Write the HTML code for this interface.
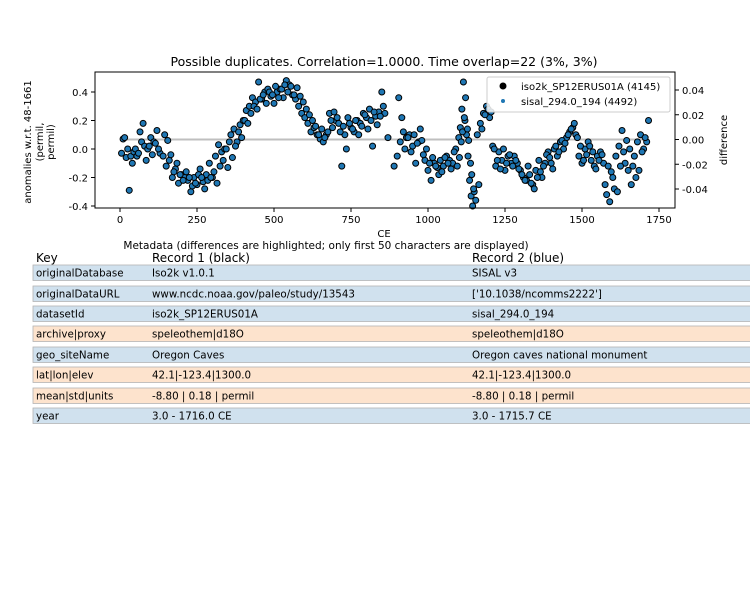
<!DOCTYPE html>
<html><head><meta charset="utf-8"><style>
body{margin:0;background:#fff;width:750px;height:600px;overflow:hidden;font-family:"DejaVu Sans","Liberation Sans",sans-serif}
svg text{font-family:"DejaVu Sans","Liberation Sans",sans-serif;fill:#000}
</style></head><body>
<svg id="chart" width="750" height="600" viewBox="0 0 750 600">
<text x="384" y="66" font-size="12.5" text-anchor="middle">Possible duplicates. Correlation=1.0000. Time overlap=22 (3%, 3%)</text>
<g id="plot"></g>
<g id="table"></g>
</svg>
<script>
const years=[5,10,15,20,25,30,35,40,45,50,55,60,70,80,90,100,110,120,130,140,150,160,170,180,190,200,210,220,230,240,250,260,270,280,290,300,310,320,330,340,350,360,370,380,390,400,410,420,430,440,450,460,470,480,490,500,510,520,530,540,550,560,570,580,590,600,610,620,630,640,650,660,670,680,690,700,710,720,730,740,750,760,770,780,790,800,810,820,830,840,850,860,870,890,900,910,920,930,940,950,960,970,980,990,1000,1010,1020,1030,1040,1050,1060,1070,1080,1090,1100,1105,1110,1115,1120,1125,1130,1135,1140,1145,1150,1160,1170,1180,1190,1200,1210,1220,1230,1240,1250,1260,1270,1280,1290,1300,1310,1320,1330,1340,1350,1360,1370,1380,1390,1400,1410,1420,1430,1440,1450,1460,1470,1480,1490,1500,1510,1520,1530,1540,1550,1560,1570,1575,1580,1590,1600,1610,1620,1630,1640,1650,1660,1670,1680,1690,1700,1710,1716,
65,75,85,95,105,115,125,145,155,165,175,185,195,205,215,225,235,245,255,265,275,285,295,305,315,325,335,345,355,365,375,385,395,405,415,425,435,445,455,465,475,485,495,505,515,525,535,545,555,565,575,585,595,605,615,625,635,645,655,665,675,685,695,705,715,725,735,745,755,765,775,785,795,805,815,825,835,845,855,905,915,925,935,945,955,965,975,985,995,1005,1015,1025,1035,1045,1055,1065,1075,1085,1095,1102,1108,1112,1118,1122,1128,1132,1138,1142,1148,1155,1165,1175,1185,1195,1205,1215,1225,1235,1245,1255,1265,1275,1285,1295,1305,1315,1325,1335,1345,1355,1365,1375,1385,1395,1405,1415,1425,1435,1445,1455,1465,1475,1485,1495,1505,1515,1525,1535,1545,1555,1565,1585,1595,1605,1615,1625,1635,1645,1655,1665,1675,1685,1695,1705];
const values=[-0.03,0.07,0.08,-0.06,0.0,-0.29,-0.05,-0.1,-0.02,0.0,-0.05,-0.03,0.05,0.02,0.0,0.08,0.05,0.13,-0.03,-0.05,-0.12,-0.08,-0.2,-0.14,-0.24,-0.18,-0.2,-0.22,-0.3,-0.2,-0.25,-0.14,-0.23,-0.18,-0.1,-0.2,-0.05,0.03,-0.02,0.0,-0.13,0.1,0.14,0.05,0.17,0.2,0.27,0.3,0.36,0.33,0.47,0.35,0.4,0.42,0.37,0.32,0.4,0.42,0.36,0.48,0.45,0.38,0.35,0.3,0.25,0.22,0.18,0.12,0.15,0.1,0.07,0.05,0.1,0.25,0.15,0.2,0.18,-0.12,0.1,0.22,0.15,0.12,0.2,0.18,0.25,0.22,0.28,0.02,0.23,0.26,0.4,0.25,0.08,-0.12,-0.05,0.05,0.12,0.08,0.1,0.02,-0.1,0.05,0.06,-0.08,-0.15,-0.22,-0.1,-0.13,-0.08,-0.12,-0.05,-0.08,-0.1,0.0,0.08,0.15,0.28,0.47,0.2,0.1,-0.05,-0.22,-0.33,-0.4,-0.3,0.1,0.18,0.25,0.3,0.22,0.02,-0.12,-0.02,-0.08,-0.15,-0.05,-0.1,-0.05,-0.1,-0.15,-0.2,-0.22,-0.18,-0.25,-0.15,-0.08,-0.2,-0.1,-0.02,-0.1,0.0,-0.05,0.05,0.0,0.08,0.12,0.15,0.1,-0.05,-0.1,0.0,0.05,-0.08,-0.12,-0.05,-0.02,-0.1,-0.25,-0.32,-0.37,-0.2,-0.05,0.02,0.13,-0.1,-0.15,-0.25,-0.05,0.05,0.1,0.0,0.05,0.2,0.12,0.18,
-0.08,0.02,-0.04,0.04,0.0,0.1,0.06,-0.04,-0.16,-0.1,-0.18,-0.22,-0.16,-0.2,-0.26,-0.24,-0.18,-0.2,-0.28,-0.22,-0.2,-0.16,-0.24,-0.12,-0.08,0.0,0.05,-0.06,0.02,0.12,0.08,0.2,0.18,0.25,0.3,0.28,0.35,0.38,0.32,0.4,0.38,0.44,0.36,0.42,0.45,0.4,0.44,0.38,0.43,0.37,0.33,0.28,0.24,0.2,0.16,0.1,0.14,0.08,0.12,0.2,0.26,0.22,0.12,0.16,0.0,0.18,0.14,0.2,0.1,0.16,0.24,0.14,0.2,0.26,0.17,0.23,0.3,0.36,0.22,0.0,0.08,-0.02,0.1,0.04,0.14,-0.04,0.0,-0.1,-0.06,-0.12,-0.18,-0.16,-0.06,-0.1,-0.14,-0.02,-0.12,-0.06,0.05,0.12,0.22,0.36,0.14,0.06,-0.1,-0.18,-0.28,-0.36,-0.25,0.14,0.24,0.28,0.26,0.0,-0.08,-0.14,0.0,-0.1,-0.04,-0.12,-0.08,-0.14,-0.18,-0.22,-0.12,-0.24,-0.28,-0.2,-0.16,-0.12,-0.04,-0.06,-0.14,0.02,-0.02,0.06,0.04,0.1,0.14,0.18,0.08,0.02,-0.08,-0.04,0.02,-0.02,-0.14,-0.08,-0.04,-0.12,-0.16,-0.28,-0.3,-0.12,-0.02,0.06,0.0,-0.12,-0.2,-0.15,-0.02,0.08,0.04,0.1,0.14,0.08];
const xTicks=[0,250,500,750,1000,1250,1500,1750];
const yTicks=[-0.4,-0.2,0.0,0.2,0.4];
const y2Ticks=[-0.04,-0.02,0.00,0.02,0.04];
const keys=["originalDatabase","originalDataURL","datasetId","archive|proxy","geo_siteName","lat|lon|elev","mean|std|units","year"];
const rec1=["Iso2k v1.0.1","www.ncdc.noaa.gov/paleo/study/13543","iso2k_SP12ERUS01A","speleothem|d18O","Oregon Caves","42.1|-123.4|1300.0","-8.80 | 0.18 | permil","3.0 - 1716.0 CE"];
const rec2=["SISAL v3","['10.1038/ncomms2222']","sisal_294.0_194","speleothem|d18O","Oregon caves national monument","42.1|-123.4|1300.0","-8.80 | 0.18 | permil","3.0 - 1715.7 CE"];
const same=[false,false,false,true,false,true,true,false];

const NS="http://www.w3.org/2000/svg";
function mk(p,t,a){const e=document.createElementNS(NS,t);for(const k in a)e.setAttribute(k,a[k]);p.appendChild(e);return e;}
const X=v=>120+v*(659-120)/1750;
const Y=v=>149-v*142.5;
const Y2=v=>139.5-v*(99/0.08);
const L=95,R=675,T=72,B=208;
const g=document.getElementById('plot');
let zl=mk(g,'line',{x1:X(10),x2:X(1716),y1:Y2(0),y2:Y2(0),stroke:'#bfbfbf','stroke-width':2});


for(let i=0;i<years.length;i++){
 const c=mk(g,'circle',{cx:X(years[i]),cy:Y(values[i]),r:3,fill:'#1f77b4',stroke:'#000','stroke-width':1});
 
 
}
let fr=mk(g,'rect',{x:L,y:T,width:R-L,height:B-T,fill:'none',stroke:'#000','stroke-width':1});


xTicks.forEach(t=>{mk(g,'line',{x1:X(t),x2:X(t),y1:B,y2:B+4,stroke:'#000'});
 const tx=mk(g,'text',{x:X(t),y:B+15,'font-size':10,'text-anchor':'middle'});tx.textContent=t;
 
 });
yTicks.forEach(t=>{mk(g,'line',{x1:L-4,x2:L,y1:Y(t),y2:Y(t),stroke:'#000'});
 const tx=mk(g,'text',{x:L-7,y:Y(t)+4,'font-size':10,'text-anchor':'end'});tx.textContent=t.toFixed(1);
 
 });
y2Ticks.forEach(t=>{mk(g,'line',{x1:R,x2:R+4,y1:Y2(t),y2:Y2(t),stroke:'#000'});
 const tx=mk(g,'text',{x:R+7,y:Y2(t)+4,'font-size':10});tx.textContent=t.toFixed(2);
 
 });
let xl=mk(g,'text',{x:384,y:237,'font-size':10,'text-anchor':'middle'});xl.textContent='CE';


[['anomalies w.r.t. 48-1661',31],['(permil,',43],['permil)',54]].forEach(([s,x])=>{
 const t=mk(g,'text',{x:x,y:142,'font-size':10,'text-anchor':'middle',transform:`rotate(-90 ${x} 142)`});t.textContent=s;
 
 });
let y2l=mk(g,'text',{x:727,y:140,'font-size':10,'text-anchor':'middle',transform:'rotate(-90 727 140)'});y2l.textContent='difference';


const lg=mk(g,'g',{});


mk(lg,'rect',{x:487,y:77,width:183,height:35,fill:'#fff','fill-opacity':0.85,stroke:'#ccc',rx:2});
mk(lg,'circle',{cx:503,cy:86,r:3.5,fill:'#000'});
mk(lg,'circle',{cx:503,cy:101,r:2,fill:'#1f77b4'});
let l1=mk(lg,'text',{x:521,y:90,'font-size':10});l1.textContent='iso2k_SP12ERUS01A (4145)';


let l2=mk(lg,'text',{x:521,y:105,'font-size':10});l2.textContent='sisal_294.0_194 (4492)';


const tb=document.getElementById('table');
let mt=mk(tb,'text',{x:326,y:249,'font-size':10.5,'text-anchor':'middle'});mt.textContent='Metadata (differences are highlighted; only first 50 characters are displayed)';


[['Key',36],['Record 1 (black)',152],['Record 2 (blue)',472]].forEach(([s,x])=>{const t=mk(tb,'text',{x:x,y:262,'font-size':12});t.textContent=s;
 
 });
const tops=[265,286,306,326,347,367,388,408];
keys.forEach((k,i)=>{
 const y=tops[i];
 const r=mk(tb,'rect',{x:33,y:y,width:720,height:15.5,fill:same[i]?'#fde3cd':'#d0e1ee',stroke:'#b4b4b4','stroke-width':0.8});
 
 
 [[k,36],[rec1[i],152],[rec2[i],472]].forEach(([s,x])=>{const t=mk(tb,'text',{x:x,y:y+11.5,'font-size':10.3});t.textContent=s;
  
  });
});
</script>
</body></html>
